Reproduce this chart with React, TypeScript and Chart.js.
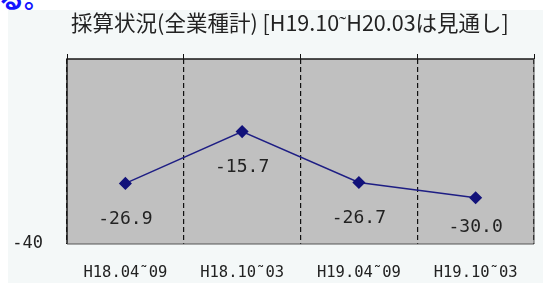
import React, { useEffect, useRef } from 'react';
import { Chart, registerables } from 'chart.js';

Chart.register(...registerables);

const categories = ['H18.04˜09', 'H18.10˜03', 'H19.04˜09', 'H19.10˜03'];
const values = [-26.9, -15.7, -26.7, -30.0];
const yTickValues = [-40];
const yMin = -40;
const yMax = 0;
const titleText = '採算状況(全業種計) [H19.10˜H20.03は見通し]';
const headText = 'る。';

const plotBg = {
  id: 'plotBg',
  beforeDraw(chart: any) {
    const { ctx, chartArea: a } = chart;
    ctx.save();
    ctx.fillStyle = '#c0c0c0';
    ctx.fillRect(a.left, a.top, a.right - a.left, a.bottom - a.top);
    ctx.restore();
  },
};

const titleDraw = {
  id: 'titleDraw',
  afterDraw(chart: any) {
    const { ctx } = chart;
    ctx.save();
    ctx.font = "21.5px 'Noto Sans CJK JP'";
    ctx.fillStyle = '#222';
    ctx.textAlign = 'center';
    ctx.textBaseline = 'middle';
    ctx.fillText(titleText, 282, 12.5);
    ctx.restore();
  },
};

const frame = {
  id: 'frame',
  beforeDatasetsDraw(chart: any) {
    const { ctx, chartArea: a } = chart;
    ctx.save();
    ctx.lineWidth = 1.5;
    ctx.strokeStyle = '#1a1a1a';
    ctx.beginPath();
    ctx.moveTo(a.left, a.bottom);
    ctx.lineTo(a.left, a.top);
    ctx.lineTo(a.right, a.top);
    ctx.stroke();
    ctx.lineWidth = 1;
    ctx.strokeStyle = '#555';
    ctx.beginPath();
    ctx.moveTo(a.right, a.top);
    ctx.lineTo(a.right, a.bottom);
    ctx.lineTo(a.left, a.bottom);
    ctx.stroke();
    ctx.restore();
  },
};

const dataLabels = {
  id: 'dataLabels',
  afterDatasetsDraw(chart: any) {
    const { ctx, chartArea: a } = chart;
    const meta = chart.getDatasetMeta(0);
    ctx.save();
    ctx.font = "18px 'DejaVu Sans Mono'";
    ctx.fillStyle = '#222';
    ctx.textAlign = 'center';
    ctx.textBaseline = 'middle';
    meta.data.forEach((pt: any, i: number) => {
      const y = Math.min(pt.y + 36, a.bottom - 17);
      ctx.fillText(values[i].toFixed(1), pt.x, y);
    });
    ctx.restore();
  },
};

export default function App() {
  const ref = useRef<HTMLCanvasElement | null>(null);
  useEffect(() => {
    if (!ref.current) return;
    const chart = new Chart(ref.current, {
      type: 'line',
      data: {
        labels: categories,
        datasets: [
          {
            data: values,
            xAxisID: 'x',
            yAxisID: 'y',
            borderColor: '#1e1e84',
            borderWidth: 1.5,
            pointStyle: 'rectRot',
            pointRadius: 5.5,
            pointBackgroundColor: '#12127a',
            pointBorderColor: '#12127a',
            tension: 0,
          },
        ],
      },
      options: {
        responsive: false,
        animation: false,
        layout: { padding: { left: 0, right: 9, top: 0, bottom: 0 } },
        plugins: {
          legend: { display: false },
          tooltip: { enabled: false },
          title: { display: false },
        },
        scales: {
          x: {
            type: 'category',
            position: 'bottom',
            offset: true,
            grid: {
              offset: true,
              drawOnChartArea: true,
              drawTicks: false,
              color: '#111',
              lineWidth: 1.2,
            },
            border: { display: false, dash: [5, 3] },
            ticks: {
              color: '#222',
              padding: 20,
              maxRotation: 0,
              autoSkip: false,
              font: { family: "'DejaVu Sans Mono'", size: 15.5 },
            },
            afterFit(s: any) {
              s.height = 39;
            },
          },
          x2: {
            type: 'category',
            position: 'top',
            offset: true,
            grid: {
              offset: true,
              drawOnChartArea: false,
              drawTicks: true,
              tickLength: 5,
              color: '#111',
              lineWidth: 1,
            },
            border: { display: false },
            ticks: { display: false },
            afterFit(s: any) {
              s.height = 49;
            },
          },
          y: {
            type: 'linear',
            min: yMin,
            max: yMax,
            grid: { display: false, drawTicks: false },
            border: { display: false },
            afterBuildTicks(s: any) {
              s.ticks = yTickValues.map((v) => ({ value: v }));
            },
            ticks: {
              color: '#222',
              padding: 24,
              font: { family: "'DejaVu Sans Mono'", size: 17 },
            },
            afterFit(s: any) {
              s.width = 59;
            },
          },
        },
      },
      plugins: [plotBg, frame, dataLabels, titleDraw],
    } as any);
    return () => chart.destroy();
  }, []);

  return (
    <div style={{ position: 'absolute', left: 0, top: 0, width: 543, height: 283, background: '#fff', overflow: 'hidden' }}>
      <div style={{ position: 'absolute', left: -1, top: 0, width: 80, height: 10, overflow: 'hidden' }}>
        <span
          style={{
            position: 'absolute',
            left: 0,
            top: -15,
            fontFamily: "'Noto Sans CJK JP'",
            fontSize: 25,
            lineHeight: '25px',
            fontWeight: 'bold',
            color: '#1414ff',
            whiteSpace: 'nowrap',
          }}
        >
          {headText}
        </span>
      </div>
      <canvas
        ref={ref}
        width={535}
        height={273}
        style={{ position: 'absolute', left: 8, top: 10, width: 535, height: 273, background: '#f4f8f8', display: 'block' }}
      />
    </div>
  );
}
